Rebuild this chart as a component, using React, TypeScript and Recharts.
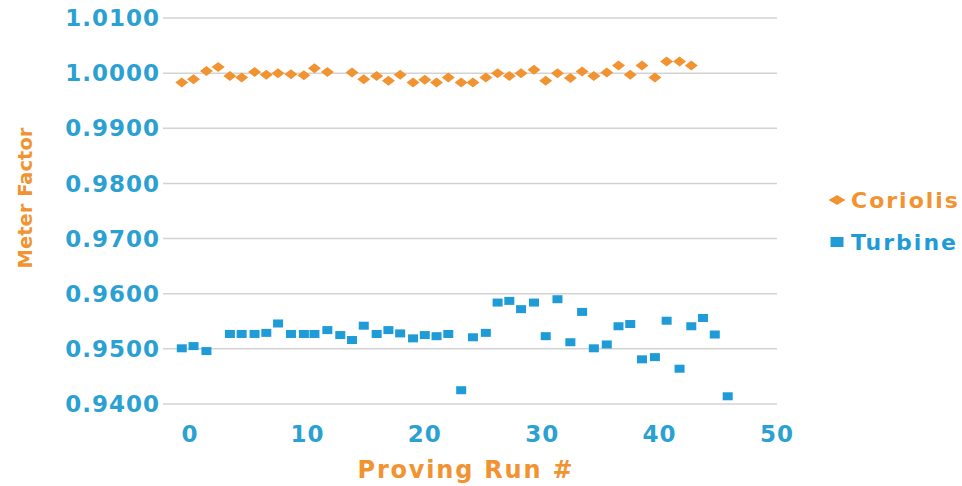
import React from 'react';
import { ScatterChart, Scatter, XAxis, YAxis, CartesianGrid, Label } from 'recharts';

// run position of every proving run on the x axis
const runs = [
  -0.7, 0.3, 1.4, 2.4, 3.4, 4.4, 5.5, 6.5, 7.5, 8.6, 9.7, 10.6, 11.7, 12.8, 13.8, 14.8,
  15.9, 16.9, 17.9, 19.0, 20.0, 21.0, 22.0, 23.1, 24.1, 25.2, 26.2, 27.2, 28.2, 29.3,
  30.3, 31.3, 32.4, 33.4, 34.4, 35.5, 36.5, 37.5, 38.5, 39.6, 40.6, 41.7, 42.7, 43.7,
  44.7, 45.8,
];

// meter factor per run (null = no proving for that meter)
const coriolis = [
  0.9983, 0.9989, 1.0004, 1.0011, 0.9995, 0.9992, 1.0002, 0.9997, 1.0, 0.9998, 0.9996,
  1.0009, 1.0002, null, 1.0001, 0.9989, 0.9995, 0.9986, 0.9997, 0.9983, 0.9988, 0.9983,
  0.9992, 0.9983, 0.9983, 0.9992, 1.0, 0.9995, 1.0, 1.0006, 0.9986, 1.0, 0.9991, 1.0003,
  0.9995, 1.0001, 1.0014, 0.9997, 1.0014, 0.9992, 1.0021, 1.0021, 1.0014, null, null, null,
];

const turbine = [
  0.9501, 0.9505, 0.9496, null, 0.9527, 0.9527, 0.9527, 0.9529, 0.9546, 0.9527, 0.9527,
  0.9527, 0.9534, 0.9525, 0.9516, 0.9542, 0.9527, 0.9534, 0.9528, 0.9519, 0.9525, 0.9523,
  0.9527, 0.9425, 0.9521, 0.9529, 0.9584, 0.9587, 0.9572, 0.9584, 0.9523, 0.959, 0.9512,
  0.9567, 0.9501, 0.9508, 0.9541, 0.9545, 0.9481, 0.9485, 0.9551, 0.9464, 0.9541, 0.9556,
  0.9526, 0.9414,
];

const xTicks = [0, 10, 20, 30, 40, 50];
const yTicks = [0.94, 0.95, 0.96, 0.97, 0.98, 0.99, 1.0, 1.01];

const ORANGE = '#f29331';
const BLUE = '#1f9bd7';
const TICK_BLUE = '#2ba1d3';
const FONT = '"DejaVu Sans", sans-serif';

const toPoints = (values: (number | null)[]) =>
  runs
    .map((run, i) => ({ run, mf: values[i] }))
    .filter((p) => p.mf !== null);

const Diamond = (props: any) => {
  const { cx, cy, fill } = props;
  return (
    <polygon
      points={`${cx - 6.5},${cy} ${cx},${cy - 5} ${cx + 6.5},${cy} ${cx},${cy + 5}`}
      fill={fill}
    />
  );
};

const Square = (props: any) => {
  const { cx, cy, fill } = props;
  return <rect x={cx - 5} y={cy - 4} width={10} height={8} fill={fill} />;
};

const series = [
  { name: 'Coriolis', color: ORANGE, data: toPoints(coriolis), shape: Diamond, icon: 'diamond' },
  { name: 'Turbine', color: BLUE, data: toPoints(turbine), shape: Square, icon: 'square' },
];

const tickStyle = { fill: TICK_BLUE, fontSize: 23, fontWeight: 700, fontFamily: FONT, letterSpacing: 1 };
const titleStyle = { fill: ORANGE, fontWeight: 700, fontFamily: FONT };

// axis titles, placed from the axis box recharts hands to the label
const XTitle = ({ viewBox }: any) => (
  <text
    x={viewBox.x + viewBox.width / 2 - 4}
    y={viewBox.y + viewBox.height - 8}
    textAnchor="middle"
    fontSize={24}
    letterSpacing={1.8}
    {...titleStyle}
  >
    Proving Run #
  </text>
);

const YTitle = ({ viewBox }: any) => {
  const x = viewBox.x + 32;
  const y = viewBox.y + viewBox.height / 2 - 13;
  return (
    <text x={x} y={y} transform={`rotate(-90, ${x}, ${y})`} textAnchor="middle" fontSize={19.5} {...titleStyle}>
      Meter Factor
    </text>
  );
};

export default function App() {
  return (
    <div style={{ position: 'absolute', left: 0, top: 0, width: 962, height: 486, background: '#fff' }}>
      <ScatterChart width={962} height={486} margin={{ top: 18, right: 185, bottom: 0, left: 0 }}>
        <CartesianGrid vertical={false} stroke="#d3d3d3" strokeWidth={1.5} />
        <XAxis
          type="number"
          dataKey="run"
          domain={[-2.3, 50]}
          ticks={xTicks}
          axisLine={false}
          tickLine={false}
          tickSize={6}
          tickMargin={16}
          height={82}
          tick={tickStyle}
        >
          <Label content={XTitle} />
        </XAxis>
        <YAxis
          type="number"
          dataKey="mf"
          domain={[0.94, 1.01]}
          ticks={yTicks}
          width={163}
          axisLine={false}
          tickLine={false}
          tickSize={3}
          tickMargin={0}
          tick={tickStyle}
          tickFormatter={(v: number) => v.toFixed(4)}
        >
          <Label content={YTitle} />
        </YAxis>
        {series.map((s) => (
          <Scatter
            key={s.name}
            name={s.name}
            data={s.data}
            fill={s.color}
            shape={s.shape}
            isAnimationActive={false}
          />
        ))}
      </ScatterChart>

      <div
        style={{
          position: 'absolute',
          left: 828,
          top: 186,
          fontFamily: FONT,
          fontWeight: 700,
          fontSize: 22,
          letterSpacing: 2,
          whiteSpace: 'nowrap',
        }}
      >
        {series.map((s) => (
          <div
            key={s.name}
            style={{ display: 'flex', alignItems: 'center', height: 28, marginBottom: 14, color: s.color }}
          >
            <svg width={18} height={12}>
              {s.icon === 'diamond' ? (
                <polygon points="0.5,6 9,1 17.5,6 9,11" fill={s.color} />
              ) : (
                <rect x={2.5} y={1} width={13} height={10} fill={s.color} />
              )}
            </svg>
            <span style={{ marginLeft: 5 }}>{s.name}</span>
          </div>
        ))}
      </div>
    </div>
  );
}
